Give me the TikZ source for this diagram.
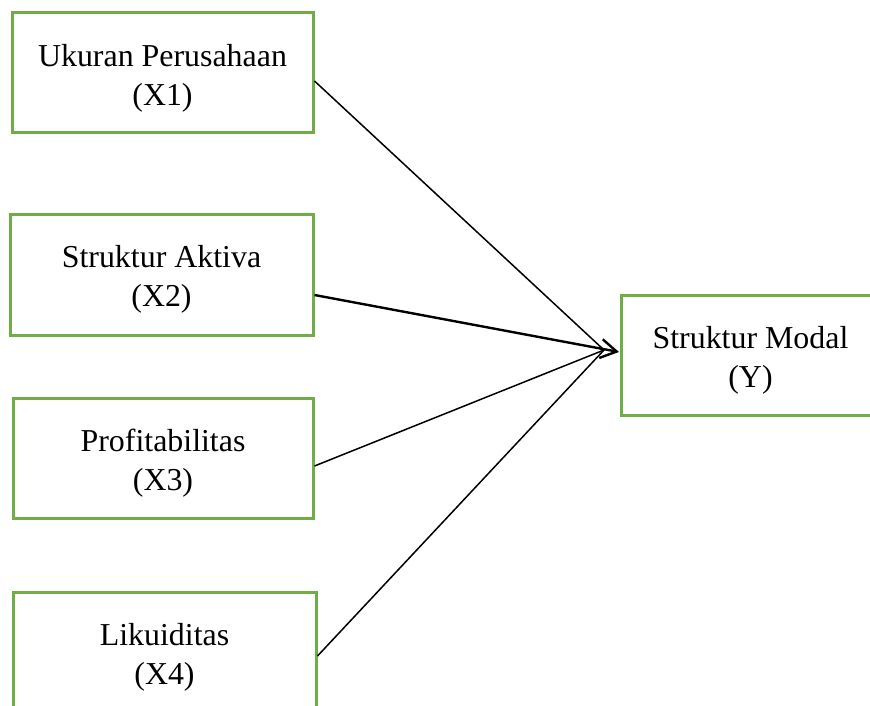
\documentclass[tikz,border=0pt]{standalone}
\usepackage{fontspec}
\setmainfont{Liberation Serif}
\usetikzlibrary{arrows.meta}
\definecolor{boxgreen}{RGB}{112,173,71}
\begin{document}
\begin{tikzpicture}[x=1pt,y=-1pt,
  varbox/.style={draw=boxgreen,line width=3pt,rectangle,inner sep=0pt,minimum height=120pt},
  vartext/.style={align=center,font=\fontsize{31.9}{39}\selectfont,inner sep=0pt},
  link/.style={line width=1.5pt,black},
  ]
\clip (0,0) rectangle (870,706);
\node[varbox,minimum width=301pt] (X1) at (162.5,73) {};
\node[vartext] (X1t) at ([yshift=-4.9pt]X1.center) {Ukuran Perusahaan\\(X1)};
\node[varbox,minimum width=303pt,minimum height=121pt] (X2) at (161.5,274.5) {};
\node[vartext] (X2t) at ([yshift=-4.9pt]X2.center) {Struktur Aktiva\\(X2)};
\node[varbox,minimum width=300pt] (X3) at (163,458) {};
\node[vartext] (X3t) at ([yshift=-4.9pt]X3.center) {Profitabilitas\\(X3)};
\node[varbox,minimum width=303pt] (X4) at (164.5,652) {};
\node[vartext] (X4t) at ([yshift=-4.9pt]X4.center) {Likuiditas\\(X4)};
\node[varbox,minimum width=259pt] (Y) at (750.5,355) {};
\node[vartext] (Yt) at ([yshift=-4.9pt]Y.center) {Struktur Modal\\(Y)};
\coordinate (tip) at (619,352);
\coordinate (join) at (604,350);
\draw[link] ([yshift=-8pt]X1.east) -- (join);
\draw[link] ([yshift=-8pt]X3.east) -- (join);
\draw[link] ([yshift=-4pt]X4.east) -- (join);
\draw[link,line width=2.4pt,-{Straight Barb[length=16pt,width=19pt]}] ([yshift=-20.5pt]X2.east) -- (tip);
\end{tikzpicture}
\end{document}
